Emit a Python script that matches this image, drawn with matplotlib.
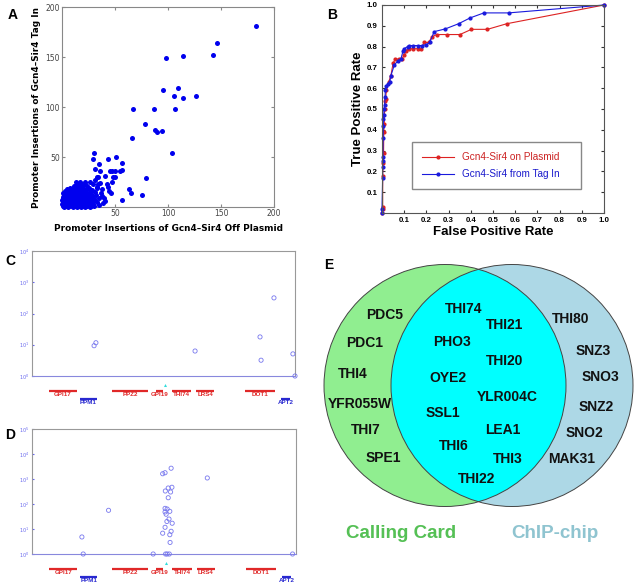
import matplotlib
matplotlib.use("Agg")
import matplotlib.pyplot as plt
from matplotlib.patches import Circle

W, H = 638, 587

# ---------------- data ----------------
# A: promoter insertions (off plasmid, tag in)
a_outliers = [(183, 181), (146, 164), (142, 152), (114, 151), (98, 149), (109, 119),
              (95, 117), (126, 111), (106, 111), (114, 109), (107, 98), (87, 98),
              (67, 98), (78, 83), (88, 77), (90, 75), (94, 76), (66, 69), (104, 54),
              (79, 29), (75, 12), (57, 7), (63, 18), (65, 14)]
a_mid = [(51, 50), (30, 54), (29, 48), (43, 48), (35, 43), (57, 44), (57, 37), (47, 36),
         (50, 36), (45, 36), (55, 36), (48, 30), (50, 30), (47, 25), (41, 31), (36, 36),
         (42, 23), (46, 14), (38, 11), (37, 14), (33, 20), (31, 27), (34, 30), (36, 24),
         (38, 18), (40, 9), (44, 16), (30, 8), (33, 5), (28, 3), (35, 2), (39, 4), (43, 20),
         (31, 38), (33, 30), (26, 12), (24, 18), (32, 12), (35, 9), (41, 6)]
a_core_rows = {
    0: [2, 6, 10, 14, 18, 22, 26],
    1: [1, 3, 5, 7, 9, 11, 13, 15, 17, 19, 21, 24, 27, 30],
    2: [1, 5, 9, 13, 17, 21, 25],
    3: [0, 2, 4, 6, 8, 10, 12, 14, 16, 18, 20, 23, 26, 29],
    4: [3, 7, 11, 15, 19, 24],
    5: [1, 3, 5, 7, 9, 11, 13, 15, 17, 20, 22, 25, 28],
    6: [1, 5, 9, 13, 18, 22],
    7: [0, 2, 4, 6, 8, 10, 12, 14, 16, 19, 23, 27, 31],
    8: [3, 7, 11, 16, 20],
    9: [1, 3, 5, 7, 9, 11, 13, 15, 18, 21, 25, 29],
    10: [1, 5, 9, 14, 19, 23],
    11: [2, 4, 6, 8, 10, 12, 14, 17, 20, 24, 28],
    12: [2, 6, 10, 15, 20],
    13: [3, 5, 7, 9, 11, 13, 16, 19, 22, 27],
    14: [1, 8, 14, 24],
    15: [4, 6, 9, 12, 15, 18, 21, 26, 31],
    16: [3, 8, 15, 20],
    17: [6, 10, 13, 17, 22, 28],
    18: [5, 10, 14, 18],
    19: [8, 12, 16, 20, 25, 33],
    21: [11, 15, 19, 24],
    23: [14, 18, 22, 29, 34],
    25: [13, 17, 22, 26],
}

# B: ROC curves
fpr_plasmid = [0, 0.003, 0.003, 0.003, 0.005, 0.007, 0.008, 0.010, 0.012, 0.014, 0.016,
               0.020, 0.030, 0.040, 0.050, 0.060, 0.075, 0.090, 0.100, 0.110, 0.120,
               0.140, 0.160, 0.175, 0.190, 0.210, 0.226, 0.247, 0.292, 0.351, 0.403,
               0.475, 0.562, 1.0]
tpr_plasmid = [0, 0.02, 0.03, 0.18, 0.24, 0.29, 0.39, 0.43, 0.50, 0.54, 0.55, 0.59, 0.63,
               0.66, 0.72, 0.74, 0.74, 0.74, 0.76, 0.78, 0.79, 0.79, 0.79, 0.79, 0.82,
               0.82, 0.848, 0.858, 0.858, 0.858, 0.883, 0.883, 0.91, 1.0]
fpr_tagin = [0, 0, 0.003, 0.003, 0.003, 0.004, 0.005, 0.006, 0.006, 0.008, 0.009, 0.012,
             0.014, 0.015, 0.020, 0.025, 0.035, 0.040, 0.055, 0.070, 0.085, 0.095, 0.100,
             0.115, 0.120, 0.140, 0.160, 0.180, 0.200, 0.215, 0.235, 0.285, 0.345, 0.397,
             0.459, 0.570, 1.0]
tpr_tagin = [0, 0.02, 0.17, 0.22, 0.25, 0.27, 0.36, 0.42, 0.45, 0.47, 0.50, 0.52, 0.56,
             0.59, 0.61, 0.62, 0.63, 0.66, 0.71, 0.73, 0.74, 0.78, 0.79, 0.80, 0.805,
             0.805, 0.805, 0.805, 0.81, 0.82, 0.872, 0.885, 0.91, 0.938, 0.962, 0.962, 1.0]

# C / D: insertion counts along the locus
c_pos = [236, 243, 620, 867, 871, 920, 992, 1000]
c_counts = [9.3, 11.6, 6.3, 17.8, 3.2, 316, 5.1, 1]
d_pos = [189, 194, 290, 459, 506, 512, 520, 495, 504, 527, 664, 505, 516, 530, 525, 516,
         504, 512, 522, 504, 508, 519, 531, 511, 504, 495, 527, 522, 523, 987]
d_counts = [4.8, 1, 56, 1, 1, 1, 1, 1620, 1780, 2700, 1100, 331, 436, 467, 302, 178, 67,
            63, 51, 48, 39, 25, 17, 20, 11.7, 6.8, 8.1, 5.9, 2.9, 1]

gene_names = ["GPI17", "PPM1", "PPZ2", "GPI19", "THI74", "LRS4", "DOT1", "APT2"]
gene_start = [65, 183, 304, 471, 532, 624, 810, 947]
gene_end = [171, 247, 441, 498, 605, 692, 924, 981]
gene_strand = ["+", "-", "+", "+", "+", "+", "+", "-"]
site_pos = 506

# E: Venn diagram gene lists
calling_only = ["PDC5", "PDC1", "THI4", "YFR055W", "THI7", "SPE1"]
both = ["THI74", "THI21", "PHO3", "THI20", "OYE2", "YLR004C", "SSL1", "LEA1", "THI6",
        "THI3", "THI22"]
chip_only = ["THI80", "SNZ3", "SNO3", "SNZ2", "SNO2", "MAK31"]


def rect(left, top, right, bottom):
    return [left / W, (H - bottom) / H, (right - left) / W, (bottom - top) / H]


fig = plt.figure(figsize=(W / 100, H / 100), dpi=100)
fig.patch.set_facecolor("white")
ARIAL = "Liberation Sans"

# ---------------- panel A ----------------
ax = fig.add_axes(rect(62, 7, 274, 207))
ax_x = [p[0] for p in a_outliers + a_mid]
ax_y = [p[1] for p in a_outliers + a_mid]
for yy, xs in a_core_rows.items():
    ax_x += xs
    ax_y += [yy] * len(xs)
ax.scatter(ax_x, ax_y, s=13, color="#0000ee", linewidths=0, clip_on=False, zorder=3)
ax.set_xlim(0, 200)
ax.set_ylim(0, 200)
ax.set_xticks([50, 100, 150, 200])
ax.set_yticks([50, 100, 150, 200])
ax.tick_params(labelsize=5.5, labelcolor="#444444", color="#888888", length=2.5,
               direction="in", top=True, right=True, pad=1.5)
for s in ax.spines.values():
    s.set_color("#888888")
    s.set_linewidth(0.8)
ax.set_xlabel("Promoter Insertions of Gcn4\u2013Sir4 Off Plasmid", fontsize=6.4,
              fontweight="bold", labelpad=4)
ax.set_ylabel("Promoter Insertions of Gcn4\u2013Sir4 Tag In", fontsize=6.4,
              fontweight="bold", labelpad=3)
fig.text(8 / W, 1 - 15 / H, "A", fontsize=10, fontweight="bold", family=ARIAL, va="center")

# ---------------- panel B ----------------
ax = fig.add_axes(rect(382, 5, 604, 213))
ax.plot(fpr_plasmid, tpr_plasmid, "-", marker=".", color="#dd2222", lw=0.8, ms=4,
        clip_on=False, label="Gcn4-Sir4 on Plasmid")
ax.plot(fpr_tagin, tpr_tagin, "-", marker=".", color="#1a1add", lw=0.8, ms=4,
        clip_on=False, label="Gcn4-Sir4 from Tag In")
ax.set_xlim(0, 1)
ax.set_ylim(0, 1)
ticks = [0.1 * i for i in range(1, 11)]
ax.set_xticks(ticks)
ax.set_yticks(ticks)
ax.set_xticklabels([f"{t:.1f}" for t in ticks])
ax.set_yticklabels([f"{t:.1f}" for t in ticks])
ax.tick_params(labelsize=5.7, direction="in", top=True, right=True, length=2.5, pad=3,
               color="#333333")
for lab in ax.get_xticklabels() + ax.get_yticklabels():
    lab.set_fontweight("bold")
    lab.set_family(ARIAL)
for s in ax.spines.values():
    s.set_color("#555555")
    s.set_linewidth(0.8)
ax.set_xlabel("False Positive Rate", fontsize=9.5, fontweight="bold", family=ARIAL,
              labelpad=1)
ax.set_ylabel("True Positive Rate", fontsize=9.5, fontweight="bold", family=ARIAL,
              labelpad=2)
leg = ax.legend(loc="lower left", bbox_to_anchor=(0.113, 0.091, 0.806, 0.231),
                mode="expand", handlelength=3.2, borderpad=1.0,
                labelspacing=0.7, fancybox=False, framealpha=1, edgecolor="#888888",
                prop={"family": ARIAL, "size": 7.2})
for txt, col in zip(leg.get_texts(), ["#cc2222", "#1a1acc"]):
    txt.set_color(col)
fig.text(327 / W, 1 - 15 / H, "B", fontsize=10, fontweight="bold", family=ARIAL,
         va="center")


# ---------------- panels C and D ----------------
def locus_panel(box, track_box, pos, counts, ymax, letter, letter_y):
    ax = fig.add_axes(rect(*box))
    ax.scatter(pos, counts, s=9, facecolors="none", edgecolors="#7777ee",
               linewidths=0.6, clip_on=False, zorder=3)
    ax.set_yscale("log")
    ax.set_xlim(0, 1000)
    ax.set_ylim(1, ymax)
    ax.set_xticks([])
    ax.minorticks_off()
    ax.tick_params(axis="y", labelsize=3.5, labelcolor="#6666ee", color="#6666ee",
                   length=1.5, direction="in", pad=2)
    for s in ax.spines.values():
        s.set_color("#999999")
        s.set_linewidth(0.8)
    ax.spines["bottom"].set_color("#8888dd")

    tr = fig.add_axes(rect(*track_box))
    tr.set_xlim(0, 1000)
    top, bottom = track_box[1], track_box[3]
    tr.set_ylim(bottom, top)
    tr.axis("off")
    for name, x0, x1, st in zip(gene_names, gene_start, gene_end, gene_strand):
        if st == "+":
            yb, col = top + 11, "#e02828"
        else:
            yb, col = top + 19, "#2828d0"
        tr.plot([x0, x1], [yb, yb], color=col, lw=1.6, solid_capstyle="butt")
        tr.text((x0 + x1) / 2, yb + 1.2, name, color=col, fontsize=4.5,
                fontweight="bold", family=ARIAL, ha="center", va="top")
    tr.plot([site_pos], [top + 5], marker="^", color="#33dddd", ms=2.2, mew=0)
    fig.text(5 / W, 1 - letter_y / H, letter, fontsize=10, fontweight="bold",
             family=ARIAL, va="center")


locus_panel((32, 251, 295, 376), (32, 380, 295, 412), c_pos, c_counts, 1e4, "C", 261)
locus_panel((32, 429, 296, 554), (32, 558, 296, 590), d_pos, d_counts, 1e5, "D", 435)

# ---------------- panel E ----------------
ax = fig.add_axes(rect(320, 250, 638, 587))
ax.set_xlim(320, 638)
ax.set_ylim(587, 250)
ax.axis("off")
r = 121
left_c = Circle((445, 385.5), r, facecolor="#90ee90", edgecolor="none")
right_c = Circle((512, 385.5), r, facecolor="#add8e6", edgecolor="none")
ax.add_patch(left_c)
ax.add_patch(right_c)
inter = Circle((445, 385.5), r, facecolor="#00ffff", edgecolor="none")
ax.add_patch(inter)
inter.set_clip_path(right_c)
for cx in (445, 512):
    ax.add_patch(Circle((cx, 385.5), r, facecolor="none", edgecolor="#444444", lw=0.7))

calling_xy = [(385, 315), (365, 343), (353, 374), (360, 404), (366, 430), (383, 458)]
both_xy = [(464, 309), (505, 325), (452, 342), (505, 361), (448, 378), (507, 397),
           (443, 413), (503, 430), (454, 446), (508, 459), (477, 479)]
chip_xy = [(571, 319), (593, 351), (600, 377), (596, 407), (584, 433), (572, 459)]
for names, xy in ((calling_only, calling_xy), (both, both_xy), (chip_only, chip_xy)):
    for name, (x, y) in zip(names, xy):
        ax.text(x, y, name, fontsize=10, fontweight="bold", family=ARIAL,
                ha="center", va="center", color="#111111")
ax.text(401, 533, "Calling Card", fontsize=13.5, fontweight="bold", family=ARIAL,
        ha="center", va="center", color="#55c055")
ax.text(555, 533, "ChIP-chip", fontsize=13.5, fontweight="bold", family=ARIAL,
        ha="center", va="center", color="#8fc4d0")
fig.text(324 / W, 1 - 265 / H, "E", fontsize=10, fontweight="bold", family=ARIAL,
         va="center")

fig.savefig("out.png", dpi=100, facecolor="white")
